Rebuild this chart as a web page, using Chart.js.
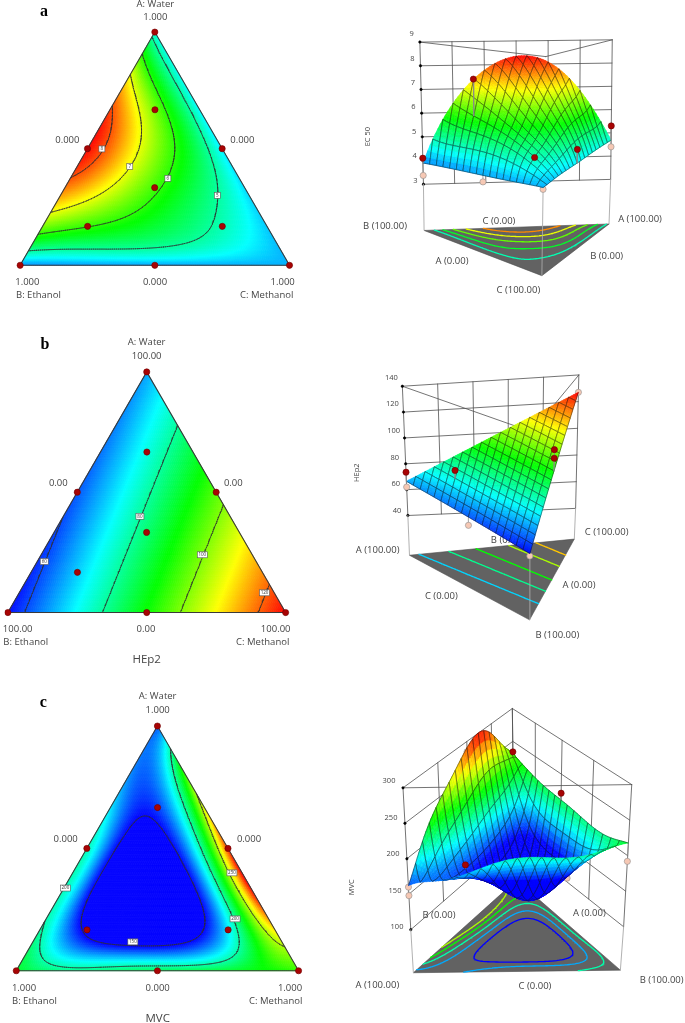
<!DOCTYPE html>
<html>
<head>
<meta charset="utf-8">
<title>Mixture response plots</title>
<script src="https://cdn.jsdelivr.net/npm/chart.js@4"></script>
<style>
  html, body { margin: 0; padding: 0; background: #fff; }
  #page { position: relative; width: 685px; height: 1023px; overflow: hidden; }
  canvas { position: absolute; filter: blur(.35px); }
</style>
</head>
<body>
<div id="page"></div>
<script>
// response: one row per Water level (0, 0.1 ... 1), one value per Methanol level
var ec50Grid = [
  [3.9, 3.92, 3.94, 3.96, 3.98, 4.0, 4.02, 4.04, 4.06, 4.08, 4.1],
  [5.55, 5.45, 5.4, 5.35, 5.25, 5.1, 4.95, 4.75, 4.5, 4.17],
  [6.75, 6.4, 6.1, 5.9, 5.7, 5.4, 5.05, 4.7, 4.24],
  [7.6, 7.25, 6.75, 6.15, 5.8, 5.4, 4.95, 4.31],
  [8.05, 7.55, 7.05, 6.35, 5.75, 5.1, 4.36],
  [8.4, 7.75, 6.95, 6.1, 5.45, 4.4],
  [8.25, 7.4, 6.5, 5.7, 4.46],
  [7.95, 6.85, 5.75, 4.52],
  [7.2, 5.85, 4.58],
  [6.05, 4.64],
  [4.7]
];
// same layout, Water 0, 0.2 ... 1
var hep2Grid = [
  [55.7, 70, 84.2, 98.5, 112.8, 127],
  [57.9, 72.1, 86.4, 100.7, 115],
  [60, 74.3, 88.6, 102.9],
  [62.2, 76.5, 90.7],
  [64.3, 78.6],
  [66.5]
];
var mvcGrid = [
  [218, 208, 206, 207, 209, 212, 214, 217, 220, 226, 232],
  [208, 183, 160, 154, 153, 154, 158, 188, 222, 252],
  [201, 163, 125, 108, 110, 130, 167, 217, 270],
  [198, 152, 112, 100, 112, 150, 208, 297],
  [198, 150, 115, 105, 147, 205, 302],
  [200, 153, 128, 152, 200, 288],
  [192, 150, 148, 187, 272],
  [180, 160, 178, 258],
  [172, 172, 232],
  [167, 203],
  [162]
];

// contour levels
var ec50Levels = [5, 6, 7, 8];
var hep2Levels = [60, 80, 100, 120];
var mvcLevels = [150, 200, 250];
var ec50FloorLevels = [4.9, 5.6, 6.3, 7, 7.7];
var hep2FloorLevels = [70, 81, 91, 103, 113];
var mvcFloorLevels = [150, 175, 200, 225, 250];

// z axis ticks
var ec50Ticks = [3, 4, 5, 6, 7, 8, 9];
var hep2Ticks = [40, 60, 80, 100, 120, 140];
var mvcTicks = [100, 150, 200, 250, 300];

// design points [Water, Ethanol, Methanol]
var designPointsEc50 = [[1, 0, 0], [0, 1, 0], [0, 0, 1], [.5, .5, 0], [.5, 0, .5], [0, .5, .5], [.667, .167, .167], [.333, .333, .333], [.167, .667, .167], [.167, .167, .667]];
var designPointsHep2 = [[1, 0, 0], [0, 1, 0], [0, 0, 1], [.5, .5, 0], [.5, 0, .5], [0, .5, .5], [.667, .167, .167], [.333, .333, .333], [.167, .667, .167]];
var designPointsMvc = [[1, 0, 0], [0, 1, 0], [0, 0, 1], [.5, .5, 0], [.5, 0, .5], [0, .5, .5], [.667, .167, .167], [.167, .667, .167], [.167, .167, .667]];

// measured runs [Water, Ethanol, Methanol, response], above and below the surface
var ec50Above = [[.167, .667, .167, 7.55], [1, 0, 0, 5.3], [0, 1, 0, 4.1], [.167, .167, .667, 4.86], [.5, 0, .5, 4.95]];
var ec50Below = [[0, 1, 0, 3.37], [1, 0, 0, 4.4], [0, 0, 1, 4.03], [0, .5, .5, 3.74]];
var hep2Above = [[1, 0, 0, 73.5], [.667, .167, .167, 80.8], [0, .5, .5, 106.7], [0, .5, .5, 100.5]];
var hep2Below = [[1, 0, 0, 62], [.5, .5, 0, 55], [0, 0, 1, 127], [0, 1, 0, 54]];
var mvcAbove = [[0, 0, 1, 234], [0, .5, .5, 222], [.667, .167, .167, 164]];
var mvcBelow = [[0, 1, 0, 192], [1, 0, 0, 160], [1, 0, 0, 148], [.5, 0, .5, 285], [.167, .667, .167, 143]];

// geometry is in crop units: 3 units for one pixel of canvas
var ternaryPanels = [
  { top: 0, h: 310, apex: [464, 85], left: [48, 806], right: [880, 806], grid: ec50Grid, degree: 6, zMin: 3.2, zMax: 8.4, levels: ec50Levels, points: designPointsEc50,
    tags: [['8', .499, .054], ['7', .424, .195], ['6', .373, .362], ['5', .30, .582]],
    texts: [['A: Water', 466, 12], ['1.000', 466, 53], ['0.000', 202, 420], ['0.000', 727, 420], ['1.000', 82, 847], ['0.000', 465, 847], ['1.000', 848, 847], ['B: Ethanol', 48, 885, 'left'], ['C: Methanol', 880, 885, 'right'], ['a', 132, 35, 'center', 'letter']] },
  { top: 330, h: 340, apex: [440, 115], left: [10, 857], right: [868, 857], grid: hep2Grid, degree: 2, zMin: 55, zMax: 127, levels: hep2Levels, points: designPointsHep2,
    tags: [['60', .212, .025], ['80', .40, .2755], ['100', .24, .58], ['120', .082, .883]],
    texts: [['A: Water', 440, 38], ['100.00', 440, 80], ['0.00', 175, 460], ['0.00', 700, 460], ['100.00', 53, 898], ['0.00', 438, 898], ['100.00', 827, 898], ['B: Ethanol', 10, 938, 'left'], ['C: Methanol', 868, 938, 'right'], ['HEp2', 440, 990, 'center', 'big'], ['b', 135, 45, 'center', 'letter']] },
  { top: 690, h: 333, apex: [472, 97], left: [36, 852], right: [908, 852], grid: mvcGrid, degree: 7, zMin: 150, zMax: 300, levels: mvcLevels, points: designPointsMvc,
    tags: [['200', .338, .005], ['150', .118, .354], ['250', .40, .564], ['200', .212, .669]],
    texts: [['A: Water', 473, 20], ['1.000', 473, 62], ['0.000', 197, 448], ['0.000', 747, 448], ['1.000', 72, 895], ['0.000', 473, 895], ['1.000', 870, 895], ['B: Ethanol', 36, 935, 'left'], ['C: Methanol', 907, 935, 'right'], ['MVC', 473, 985, 'center', 'big'], ['c', 130, 40, 'center', 'letter']] }
];

var surfacePanels = [
  { top: 10, h: 300, grid: ec50Grid, degree: 6, zMin: 3.2, zMax: 8.4, zLo: 3, zHi: 9, ticks: ec50Ticks, floorLevels: ec50FloorLevels, above: ec50Above, below: ec50Below,
    corners: { A: { floor: [815, 648], low: [820, 510], high: [825, 78], w: 1 }, B: { floor: [245, 668], low: [243, 525], high: [232, 85], w: 1 }, C: { floor: [608, 808], low: [610, 626], high: [620, 130], w: 1 } },
    family: ['A', 'B'], walls: [['B', 'A', 6]], tops: [['B', 'C'], ['A', 'C']], tickCorner: 'B', frontPillar: ['C', 4.1], tickDx: -17, tickDy: -13,
    title: ['EC 50', 83, 380],
    texts: [['B (100.00)', 135, 650], ['C (0.00)', 477, 635], ['A (100.00)', 900, 628], ['A (0.00)', 336, 755], ['B (0.00)', 800, 740], ['C (100.00)', 535, 840]] },
  { top: 360, h: 300, grid: hep2Grid, degree: 2, zMin: 55, zMax: 127, zLo: 40, zHi: 140, ticks: hep2Ticks, floorLevels: hep2FloorLevels, above: hep2Above, below: hep2Below,
    corners: { A: { floor: [200, 590], low: [195, 467], high: [178, 67], w: 1 }, B: { floor: [570, 790], low: [570, 655], high: [577, 208], w: 1 }, C: { floor: [708, 540], low: [712, 445], high: [722, 32], w: 1 } },
    family: ['A', 'C'], walls: [['A', 'C', 5]], tops: [['A', 'B'], ['C', 'B']], tickCorner: 'A', frontPillar: ['B', 55.7], tickDx: -24, tickDy: -14,
    title: ['HEp2', 50, 338],
    texts: [['A (100.00)', 113, 572], ['C (0.00)', 304, 708], ['B (100.00)', 652, 825], ['A (0.00)', 717, 675], ['C (100.00)', 800, 516], ['B (0.00)', 502, 542]] },
  { top: 700, h: 323, grid: mvcGrid, degree: 7, zMin: 150, zMax: 300, zLo: 100, zHi: 300, ticks: mvcTicks, floorLevels: mvcFloorLevels, above: mvcAbove, below: mvcBelow,
    corners: { A: { floor: [212, 828], low: [204, 695], high: [180, 257], w: 1 }, B: { floor: [850, 820], low: [860, 686], high: [885, 247], w: 1 }, C: { floor: [530, 542], low: [522, 418], high: [517, 12], w: 1.4 } },
    family: ['A', 'B'], walls: [['A', 'C', 4], ['C', 'B', 4]], tops: [['A', 'B']], tickCorner: 'A', frontPillar: null, tickDx: -33, tickDy: -14,
    title: ['MVC', 35, 562],
    texts: [['A (100.00)', 112, 855], ['C (0.00)', 585, 858], ['B (100.00)', 965, 842], ['B (0.00)', 297, 647], ['A (0.00)', 748, 640]] }
];

var TEXT_COLOR = '#454545';
var FONT = '"Open Sans", sans-serif';

// blue - cyan - green - yellow - red
function rainbow(t) {
  var stops = [[0, 0, 255], [0, 255, 255], [0, 255, 0], [255, 255, 0], [255, 0, 0]];
  t = Math.max(0, Math.min(1, t)) * 4;
  var i = Math.min(3, Math.floor(t)), f = t - i;
  var c = stops[i].map(function (v, n) { return Math.round(v + (stops[i + 1][n] - v) * f); });
  return 'rgb(' + c[0] + ',' + c[1] + ',' + c[2] + ')';
}

// smooth reading of a response table: least squares polynomial through the read values
function fieldReader(table, degree) {
  var n = table.length - 1, powers = [];
  for (var p = 0; p <= degree; p++) {
    for (var q = 0; q <= degree - p; q++) powers.push([p, q]);
  }
  function basis(a, c) {
    return powers.map(function (e) { return Math.pow(a, e[0]) * Math.pow(c, e[1]); });
  }
  var size = powers.length, M = [];
  for (var r = 0; r < size; r++) M.push(new Array(size + 1).fill(0));
  table.forEach(function (row, i) {
    row.forEach(function (z, k) {
      var b = basis(i / n, k / n);
      for (var r = 0; r < size; r++) {
        for (var s = 0; s < size; s++) M[r][s] += b[r] * b[s];
        M[r][size] += b[r] * z;
      }
    });
  });
  // gauss elimination
  for (var col = 0; col < size; col++) {
    var best = col;
    for (var r = col + 1; r < size; r++) if (Math.abs(M[r][col]) > Math.abs(M[best][col])) best = r;
    var tmp = M[col]; M[col] = M[best]; M[best] = tmp;
    for (var r = 0; r < size; r++) {
      if (r === col) continue;
      var f = M[r][col] / M[col][col];
      for (var s = col; s <= size; s++) M[r][s] -= f * M[col][s];
    }
  }
  var coef = M.map(function (row, r) { return row[size] / row[r]; });
  return function (a, c) {
    var b = basis(a, c), sum = 0;
    for (var r = 0; r < size; r++) sum += coef[r] * b[r];
    return sum;
  };
}

// lattice of the response, rows of Water, columns of Methanol
function lattice(read, R) {
  var vals = [];
  for (var i = 0; i <= R; i++) {
    vals.push([]);
    for (var k = 0; k <= R - i; k++) vals[i].push(read(i / R, k / R));
  }
  return vals;
}

function crossing(p, q, level) {
  var f = (level - p.z) / (q.z - p.z);
  return { a: p.a + (q.a - p.a) * f, c: p.c + (q.c - p.c) * f };
}

// contour of one level as [a, c] segments, marching over the lattice triangles
function contourSegments(vals, R, level) {
  var segs = [];
  function tri(p, q, r) {
    var list = [p, q, r], hits = [];
    for (var e = 0; e < 3; e++) {
      var s = list[e], t = list[(e + 1) % 3];
      if ((s.z < level) !== (t.z < level)) hits.push(crossing(s, t, level));
    }
    if (hits.length === 2) segs.push(hits);
  }
  function node(i, k) { return { a: i / R, c: k / R, z: vals[i][k] }; }
  for (var i = 0; i < R; i++) {
    for (var k = 0; k < R - i; k++) {
      tri(node(i, k), node(i + 1, k), node(i, k + 1));
      if (k < R - i - 1) tri(node(i + 1, k), node(i, k + 1), node(i + 1, k + 1));
    }
  }
  return segs;
}

function segmentsToData(segs, map) {
  var data = [];
  segs.forEach(function (s) {
    data.push(map(s[0]), map(s[1]), { x: NaN, y: NaN });
  });
  return data;
}

function drawTexts(chart, texts) {
  var ctx = chart.ctx;
  ctx.save();
  ctx.textBaseline = 'middle';
  texts.forEach(function (t) {
    ctx.textAlign = t[3] || 'center';
    ctx.fillStyle = TEXT_COLOR;
    ctx.font = '9.5px ' + FONT;
    if (t[4] === 'big') ctx.font = '11.5px ' + FONT;
    if (t[4] === 'letter') { ctx.font = 'bold 16px "Liberation Serif", serif'; ctx.fillStyle = '#000'; }
    ctx.fillText(t[0], t[1] / 3, t[2] / 3);
  });
  ctx.restore();
}

function addCanvas(left, top, w, h) {
  var canvas = document.createElement('canvas');
  canvas.width = w;
  canvas.height = h;
  canvas.style.left = left + 'px';
  canvas.style.top = top + 'px';
  canvas.style.width = w + 'px';
  canvas.style.height = h + 'px';
  document.getElementById('page').appendChild(canvas);
  return canvas;
}

function baseOptions(xMin, xMax, yMin, yMax, flipY) {
  return {
    responsive: false,
    animation: false,
    devicePixelRatio: 1,
    layout: { padding: 0 },
    plugins: { legend: { display: false }, tooltip: { enabled: false } },
    scales: {
      x: { type: 'linear', display: false, min: xMin, max: xMax },
      y: { type: 'linear', display: false, min: yMin, max: yMax, reverse: !!flipY }
    }
  };
}

function lineSet(data, color, width, order) {
  return { data: data, showLine: true, pointRadius: 0, borderColor: color, borderWidth: width, borderCapStyle: 'round', order: order, spanGaps: false };
}

function pointSet(data, fill, edge, radius, order) {
  return { data: data, showLine: false, pointRadius: radius, pointBackgroundColor: fill, pointBorderColor: edge, pointBorderWidth: .6, order: order };
}

// ternary contour plots
ternaryPanels.forEach(function (p) {
  var W = p.right[0] - p.left[0], H = p.left[1] - p.apex[1];
  var R = 140, vals = lattice(fieldReader(p.grid, p.degree), R);
  function toXY(a, c) { return { x: c + a / 2, y: a }; }
  function tone(z) { return rainbow((z - p.zMin) / (p.zMax - p.zMin)); }

  var datasets = p.levels.map(function (level) {
    var data = segmentsToData(contourSegments(vals, R, level), function (s) { return toXY(s.a, s.c); });
    return lineSet(data, '#303030', .6, 3);
  });
  datasets.push(lineSet([toXY(0, 1), toXY(1, 0), toXY(0, 0), toXY(0, 1)], '#3a3a3a', 1.1, 2));
  datasets.push(pointSet(p.points.map(function (d) { return toXY(d[0], d[2]); }), '#a80404', '#6e0000', 3.1, 1));

  var heat = {
    id: 'heat',
    beforeDatasetsDraw: function (chart) {
      var ctx = chart.ctx, sx = chart.scales.x, sy = chart.scales.y;
      function px(i, k) {
        var q = toXY(i / R, k / R);
        return [sx.getPixelForValue(q.x), sy.getPixelForValue(q.y)];
      }
      function cell(a, b, c, z) {
        var col = tone(z);
        ctx.fillStyle = col;
        ctx.strokeStyle = col;
        ctx.beginPath();
        ctx.moveTo(a[0], a[1]); ctx.lineTo(b[0], b[1]); ctx.lineTo(c[0], c[1]);
        ctx.closePath();
        ctx.fill();
        ctx.stroke();
      }
      ctx.save();
      ctx.lineWidth = .6;
      for (var i = 0; i < R; i++) {
        for (var k = 0; k < R - i; k++) {
          cell(px(i, k), px(i + 1, k), px(i, k + 1), (vals[i][k] + vals[i + 1][k] + vals[i][k + 1]) / 3);
          if (k < R - i - 1) cell(px(i + 1, k), px(i, k + 1), px(i + 1, k + 1), (vals[i + 1][k] + vals[i][k + 1] + vals[i + 1][k + 1]) / 3);
        }
      }
      ctx.restore();
    },
    afterDatasetsDraw: function (chart) {
      var ctx = chart.ctx, sx = chart.scales.x, sy = chart.scales.y;
      ctx.save();
      ctx.textAlign = 'center';
      ctx.textBaseline = 'middle';
      ctx.font = '4.5px ' + FONT;
      p.tags.forEach(function (tag) {
        var q = toXY(tag[1], tag[2]);
        var x = sx.getPixelForValue(q.x), y = sy.getPixelForValue(q.y), w = tag[0].length > 2 ? 10 : (tag[0].length > 1 ? 8 : 6);
        ctx.fillStyle = '#fff';
        ctx.strokeStyle = '#555';
        ctx.lineWidth = .6;
        ctx.fillRect(x - w / 2, y - 3, w, 6);
        ctx.strokeRect(x - w / 2, y - 3, w, 6);
        ctx.fillStyle = '#333';
        ctx.fillText(tag[0], x, y);
      });
      ctx.restore();
      drawTexts(chart, p.texts);
    }
  };

  var options = baseOptions(-p.left[0] / W, (960 - p.left[0]) / W, (p.left[1] - p.h * 3) / H, p.left[1] / H);
  new Chart(addCanvas(0, p.top, 320, p.h), { type: 'scatter', data: { datasets: datasets }, options: options, plugins: [heat] });
});

// 3D surfaces
surfacePanels.forEach(function (p) {
  var M = 18, S = 4, R = M * S;
  var read = fieldReader(p.grid, p.degree);
  var vals = lattice(read, R);
  var G = p.corners;

  // the floor stays flat, only the raised surface is weighted towards the far corner
  function project(a, b, c, z) {
    var onFloor = z === null;
    var wa = onFloor ? a : a * G.A.w, wb = onFloor ? b : b * G.B.w, wc = onFloor ? c : c * G.C.w, sum = wa + wb + wc;
    var x = 0, y = 0;
    [[G.A, wa], [G.B, wb], [G.C, wc]].forEach(function (e) {
      var q;
      if (onFloor) {
        q = e[0].floor;
      } else {
        var f = (z - p.zLo) / (p.zHi - p.zLo);
        q = [e[0].low[0] + (e[0].high[0] - e[0].low[0]) * f, e[0].low[1] + (e[0].high[1] - e[0].low[1]) * f];
      }
      x += q[0] * e[1] / sum;
      y += q[1] * e[1] / sum;
    });
    return { x: x, y: y };
  }
  function corner(name, z) {
    return project(name === 'A' ? 1 : 0, name === 'B' ? 1 : 0, name === 'C' ? 1 : 0, z);
  }
  function tone(z) { return rainbow((z - p.zMin) / (p.zMax - p.zMin)); }
  // thin stems from each run to the surface
  function stems(runs) {
    var data = [];
    runs.forEach(function (d) {
      data.push(project(d[0], d[1], d[2], d[3]), project(d[0], d[1], d[2], read(d[0], d[2])), { x: NaN, y: NaN });
    });
    return data;
  }

  // back walls, top lines and pillars
  var wallData = [], gap = { x: NaN, y: NaN };
  p.walls.forEach(function (w) {
    p.ticks.forEach(function (t) { wallData.push(corner(w[0], t), corner(w[1], t), gap); });
    for (var d = 0; d <= w[2]; d++) {
      var f = d / w[2], comp = { A: 0, B: 0, C: 0 };
      comp[w[0]] = 1 - f;
      comp[w[1]] = f;
      wallData.push(project(comp.A, comp.B, comp.C, p.ticks[0]), project(comp.A, comp.B, comp.C, p.zHi), gap);
    }
  });
  p.tops.forEach(function (t) { wallData.push(corner(t[0], p.zHi), corner(t[1], p.zHi), gap); });

  var pillarData = [];
  ['A', 'B', 'C'].forEach(function (name) {
    var front = p.frontPillar && p.frontPillar[0] === name;
    if (front) {
      pillarData.push(corner(name, null), corner(name, p.frontPillar[1]), gap);
    } else if (name !== 'C' || G.C.w === 1) {
      pillarData.push(corner(name, null), corner(name, p.ticks[0]), gap);
    }
  });

  var datasets = [];
  datasets.push(lineSet(wallData, '#505050', .8, 7));
  p.floorLevels.forEach(function (level) {
    var data = segmentsToData(contourSegments(vals, R, level), function (s) { return project(s.a, 1 - s.a - s.c, s.c, null); });
    datasets.push(lineSet(data, tone(level), 1.3, 6));
  });
  datasets.push(lineSet(pillarData, '#a8a8a8', .9, 5));
  datasets.push(pointSet(p.ticks.map(function (t) { return corner(p.tickCorner, t); }), '#000', '#000', 1.2, 5));
  datasets.push(lineSet(stems(p.below), '#8a8a8a', .8, 4.5));
  datasets.push(pointSet(p.below.map(function (d) { return project(d[0], d[1], d[2], d[3]); }), '#f6c8b4', '#8f8f8f', 3.1, 4));
  datasets.push({ data: [], surface: true, order: 3 });
  datasets.push(lineSet(stems(p.above), '#8a8a8a', .8, 2));
  datasets.push(pointSet(p.above.map(function (d) { return project(d[0], d[1], d[2], d[3]); }), '#a80404', '#6e0000', 3.1, 1));

  // mesh cells are painted back to front, the nearest floor position last
  var famP = p.family[0], famQ = p.family[1];
  function node(ip, iq) {
    var comp = { A: 0, B: 0, C: 0 };
    comp[famP] = ip;
    comp[famQ] = iq;
    ['A', 'B', 'C'].forEach(function (n) { if (n !== famP && n !== famQ) comp[n] = R - ip - iq; });
    return { a: comp.A / R, b: comp.B / R, c: comp.C / R, z: vals[comp.A][comp.C] };
  }
  function floorY(n) { return project(n.a, n.b, n.c, null).y; }
  var cells = [];
  for (var P = 0; P < M; P++) {
    for (var Q = 0; Q < M - P; Q++) {
      cells.push({ P: P, Q: Q, depth: floorY(node(P * S, Q * S)) + floorY(node((P + 1) * S, Q * S)) + floorY(node(P * S, (Q + 1) * S)) });
    }
  }
  cells.sort(function (u, v) { return u.depth - v.depth; });

  var surface = {
    id: 'surface',
    beforeDatasetsDraw: function (chart) {
      var ctx = chart.ctx, sx = chart.scales.x, sy = chart.scales.y;
      function px(q) { return [sx.getPixelForValue(q.x), sy.getPixelForValue(q.y)]; }
      var poly = [corner('A', null), corner('B', null), corner('C', null)].map(px);
      ctx.save();
      ctx.fillStyle = '#626262';
      ctx.strokeStyle = '#4d4d4d';
      ctx.lineWidth = .6;
      ctx.beginPath();
      ctx.moveTo(poly[0][0], poly[0][1]); ctx.lineTo(poly[1][0], poly[1][1]); ctx.lineTo(poly[2][0], poly[2][1]);
      ctx.closePath();
      ctx.fill();
      ctx.stroke();
      ctx.restore();
      drawTexts(chart, p.texts);
      p.ticks.forEach(function (t) {
        var q = corner(p.tickCorner, t);
        ctx.save();
        ctx.fillStyle = TEXT_COLOR;
        ctx.font = '7.5px ' + FONT;
        ctx.textAlign = 'center';
        ctx.textBaseline = 'middle';
        ctx.fillText(String(t), (q.x + p.tickDx) / 3, (q.y + p.tickDy) / 3);
        ctx.restore();
      });
      ctx.save();
      ctx.translate(p.title[1] / 3, p.title[2] / 3);
      ctx.rotate(-Math.PI / 2);
      ctx.fillStyle = TEXT_COLOR;
      ctx.font = '7.5px ' + FONT;
      ctx.textAlign = 'center';
      ctx.textBaseline = 'middle';
      ctx.fillText(p.title[0], 0, 0);
      ctx.restore();
    },
    beforeDatasetDraw: function (chart, args) {
      if (!chart.data.datasets[args.index].surface) return;
      var ctx = chart.ctx, sx = chart.scales.x, sy = chart.scales.y;
      function at(ip, iq) {
        var n = node(ip, iq), q = project(n.a, n.b, n.c, n.z);
        return { x: sx.getPixelForValue(q.x), y: sy.getPixelForValue(q.y), z: n.z };
      }
      function tri(u, v, w) {
        var col = tone((u.z + v.z + w.z) / 3);
        ctx.fillStyle = col;
        ctx.strokeStyle = col;
        ctx.beginPath();
        ctx.moveTo(u.x, u.y); ctx.lineTo(v.x, v.y); ctx.lineTo(w.x, w.y);
        ctx.closePath();
        ctx.fill();
        ctx.stroke();
      }
      function side(p0, q0, dp, dq) {
        var started = false;
        ctx.beginPath();
        for (var s = 0; s <= S; s++) {
          var ip = p0 + dp * s, iq = q0 + dq * s;
          if (ip + iq > R) break;
          var n = at(ip, iq);
          if (started) ctx.lineTo(n.x, n.y); else ctx.moveTo(n.x, n.y);
          started = true;
        }
        ctx.stroke();
      }
      ctx.save();
      ctx.lineJoin = 'round';
      cells.forEach(function (cell) {
        var p0 = cell.P * S, q0 = cell.Q * S;
        ctx.lineWidth = .5;
        for (var i = 0; i < S; i++) {
          for (var j = 0; j < S; j++) {
            var ip = p0 + i, iq = q0 + j;
            if (ip + iq + 1 <= R) tri(at(ip, iq), at(ip + 1, iq), at(ip, iq + 1));
            if (ip + iq + 2 <= R) tri(at(ip + 1, iq), at(ip, iq + 1), at(ip + 1, iq + 1));
          }
        }
        ctx.strokeStyle = 'rgba(20,20,20,.72)';
        ctx.lineWidth = .65;
        side(p0, q0, 1, 0);
        side(p0, q0, 0, 1);
        side(p0 + S, q0, 0, 1);
        side(p0, q0 + S, 1, 0);
      });
      ctx.restore();
    }
  };

  var options = baseOptions(0, 1035, 0, p.h * 3, true);
  new Chart(addCanvas(340, p.top, 345, p.h), { type: 'scatter', data: { datasets: datasets }, options: options, plugins: [surface] });
});
</script>
</body>
</html>
